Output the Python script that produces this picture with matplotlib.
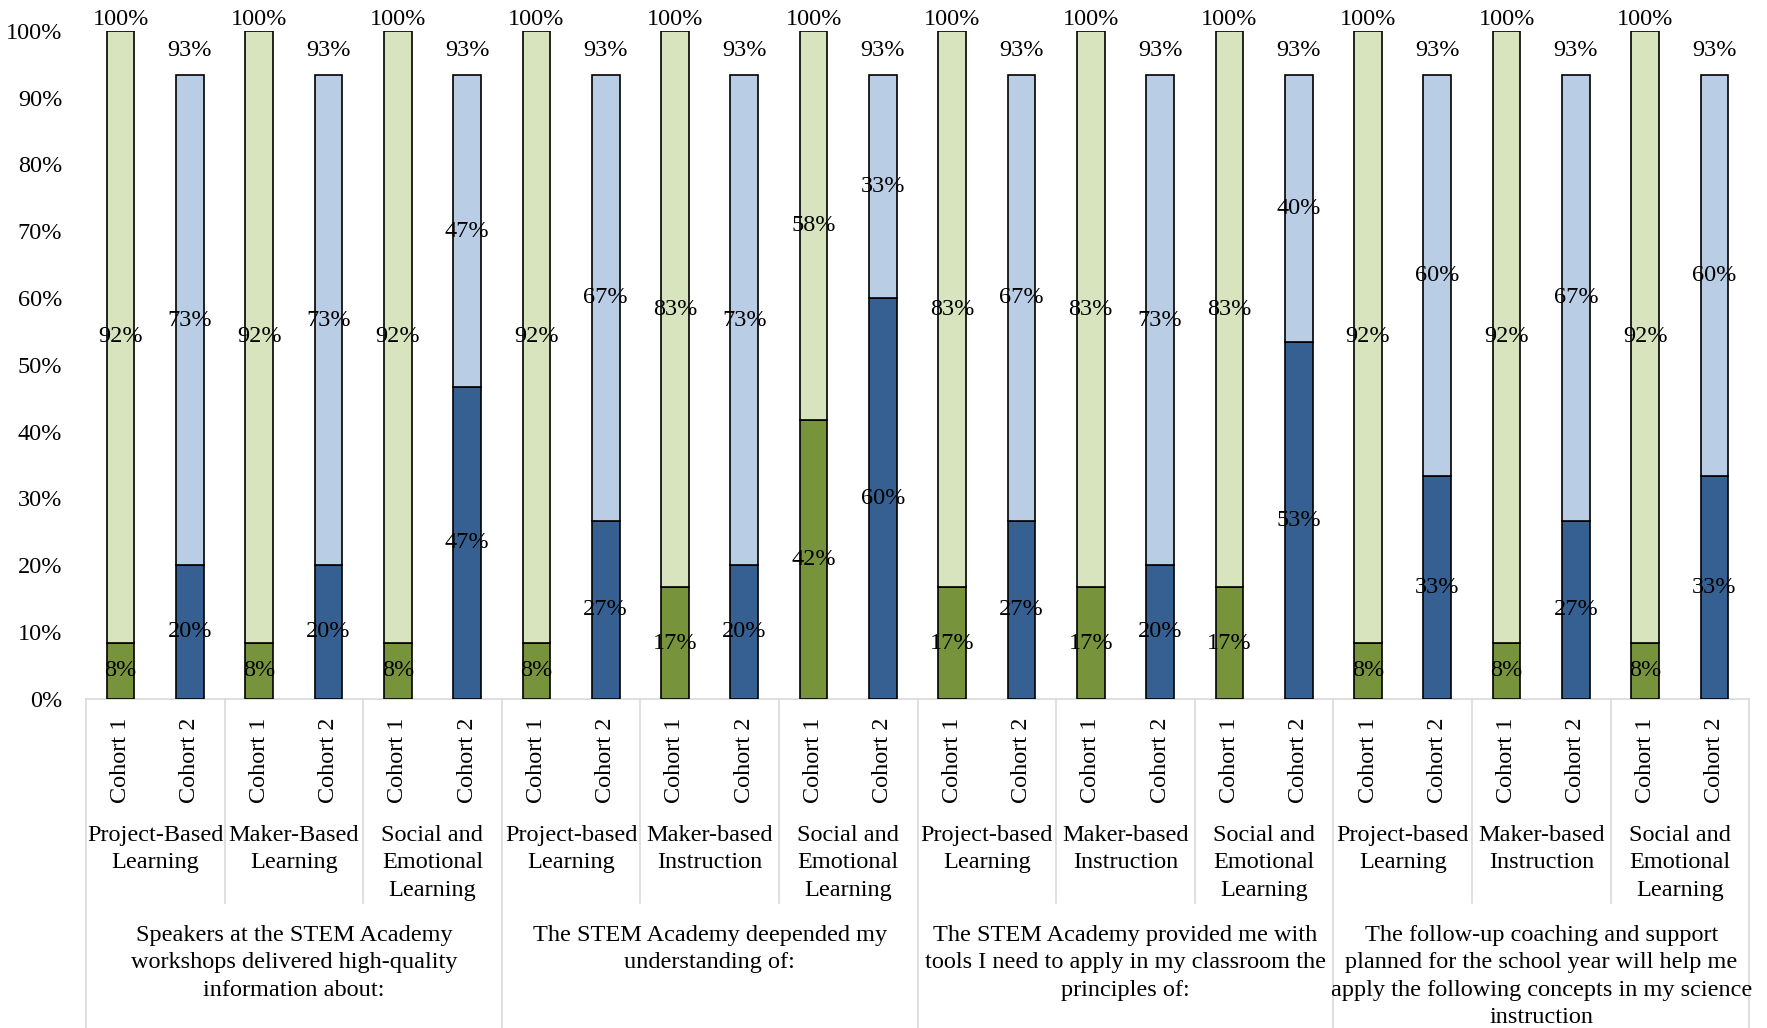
import matplotlib.pyplot as plt
from matplotlib.transforms import blended_transform_factory

plt.rcParams['font.family'] = ['Liberation Serif', 'DejaVu Serif']
plt.rcParams['font.size'] = 17.5

# question groups (top-level category), three topics each
groups = [
    "Speakers at the STEM Academy\nworkshops delivered high-quality\ninformation about:",
    "The STEM Academy deepended my\nunderstanding of:",
    "The STEM Academy provided me with\ntools I need to apply in my classroom the\nprinciples of:",
    "The follow-up coaching and support\nplanned for the school year will help me\napply the following concepts in my science\ninstruction",
]
topics = [
    "Project-Based\nLearning", "Maker-Based\nLearning", "Social and\nEmotional\nLearning",
    "Project-based\nLearning", "Maker-based\nInstruction", "Social and\nEmotional\nLearning",
    "Project-based\nLearning", "Maker-based\nInstruction", "Social and\nEmotional\nLearning",
    "Project-based\nLearning", "Maker-based\nInstruction", "Social and\nEmotional\nLearning",
]
cohorts = ["Cohort 1", "Cohort 2"]

# percentages (strongly agree = bottom, agree = top)
c1_bottom = [8.33, 8.33, 8.33, 8.33, 16.67, 41.67, 16.67, 16.67, 16.67, 8.33, 8.33, 8.33]
c1_top = [91.67, 91.67, 91.67, 91.67, 83.33, 58.33, 83.33, 83.33, 83.33, 91.67, 91.67, 91.67]
c2_bottom = [20.0, 20.0, 46.67, 26.67, 20.0, 60.0, 26.67, 20.0, 53.33, 33.33, 26.67, 33.33]
c2_top = [73.33, 73.33, 46.67, 66.67, 73.33, 33.33, 66.67, 73.33, 40.0, 60.0, 66.67, 60.0]

colors = {
    "Cohort 1": ("#77933C", "#D7E4BD"),
    "Cohort 2": ("#366092", "#B9CDE5"),
}

W, H = 1767, 1028
fig = plt.figure(figsize=(W / 100, H / 100), dpi=100)
ax = fig.add_axes([85.9 / W, 1 - 698.7 / H, (1749.2 - 85.9) / W, (698.7 - 30.7) / H])

series = {"Cohort 1": (c1_bottom, c1_top), "Cohort 2": (c2_bottom, c2_top)}
for j, c in enumerate(cohorts):
    bottom, top = series[c]
    xs = [2 * i + j for i in range(len(topics))]
    dark, light = colors[c]
    ax.bar(xs, bottom, width=0.4, color=dark, edgecolor="black", linewidth=1.2, zorder=3)
    ax.bar(xs, top, width=0.4, bottom=bottom, color=light, edgecolor="black", linewidth=1.2, zorder=3)
    for x, b, t in zip(xs, bottom, top):
        ax.text(x, b / 2, f"{round(b)}%", ha="center", va="center", zorder=4)
        ax.text(x, b + t / 2, f"{round(t)}%", ha="center", va="center", zorder=4)
        total = b + t
        off = 0.5 if total >= 99.9 else 10
        ax.annotate(f"{round(total)}%", (x, total), xytext=(0, off), textcoords="offset points",
                    ha="center", va="bottom", annotation_clip=False)

ax.set_xlim(-0.5, 2 * len(topics) - 0.5)
ax.set_ylim(0, 100)
ax.set_yticks(range(0, 101, 10))
ax.set_yticklabels([f"{v}%" for v in range(0, 101, 10)])
ax.tick_params(axis="y", length=0, pad=17)
ax.set_xticks([])
for s in ["top", "right", "left"]:
    ax.spines[s].set_visible(False)
ax.spines["bottom"].set_color("#D9D9D9")
ax.spines["bottom"].set_linewidth(1.2)

# multi-level category axis
tr = blended_transform_factory(ax.transData, fig.transFigure)
def fy(px):
    return 1 - px / H

for i in range(len(topics)):
    for j, c in enumerate(cohorts):
        ax.text(2 * i + j, fy(760), c, rotation=90, ha="center", va="center",
                transform=tr, clip_on=False)
    ax.text(2 * i + 0.5, fy(825), topics[i], ha="center", va="top", multialignment="center",
            linespacing=1.4, transform=tr, clip_on=False)

for k in range(len(topics) + 1):
    x = 2 * k - 0.5
    end = H if k % 3 == 0 else 903
    ax.plot([x, x], [fy(699), fy(end)], color="#D9D9D9", lw=1.2, transform=tr, clip_on=False)

for g, label in enumerate(groups):
    ax.text(6 * g + 2.5, fy(925), label, ha="center", va="top", multialignment="center",
            linespacing=1.4, transform=tr, clip_on=False)

fig.savefig("out.png", dpi=100)
